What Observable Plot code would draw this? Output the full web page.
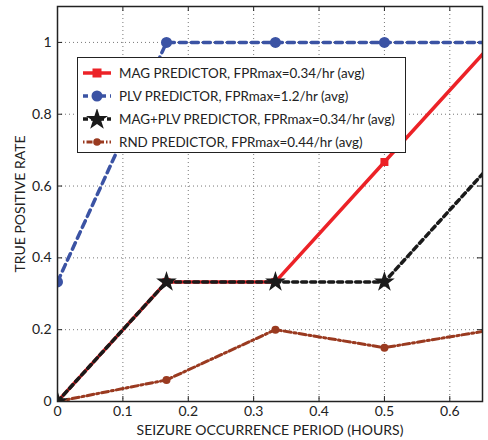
<!DOCTYPE html>
<html>
<head>
<meta charset="utf-8">
<script src="https://cdn.jsdelivr.net/npm/d3@7"></script>
<script src="https://cdn.jsdelivr.net/npm/@observablehq/plot@0.6"></script>
<style>
  body { margin: 0; background: #fff; }
  #wrap { position: relative; width: 488px; height: 440px; font-family: Lato, sans-serif; }
  #legend { position: absolute; left: 77px; top: 57px; width: 329px; height: 96px; box-sizing: border-box;
            border: 1px solid #222; background: #fff; }
  #legend .row { position: absolute; left: 0; height: 20px; display: flex; align-items: center; }
  #legend .row span { font-size: 13.4px; color: #222; margin-left: 8px; white-space: nowrap; }
</style>
</head>
<body>
<div id="wrap"></div>
<script>
// Data
const periods = [0, 0.1667, 0.3333, 0.5, 0.6667];
const magTPR = [0, 0.333, 0.333, 0.667, 1.0];
const plvTPR = [0.333, 1, 1, 1, 1];
const magPlvTPR = [0, 0.333, 0.333, 0.333, 0.667];
const rndTPR = [0, 0.06, 0.2, 0.15, 0.2];
const xTicks = [0, 0.1, 0.2, 0.3, 0.4, 0.5, 0.6];
const yTicks = [0, 0.2, 0.4, 0.6, 0.8, 1];
const seriesNames = [
  "MAG PREDICTOR, FPRmax=0.34/hr (avg)",
  "PLV PREDICTOR, FPRmax=1.2/hr (avg)",
  "MAG+PLV PREDICTOR, FPRmax=0.34/hr (avg)",
  "RND PREDICTOR, FPRmax=0.44/hr (avg)"
];

const RED = "#ec2227", BLUE = "#3b53a4", BLACK = "#1a1a1a", BROWN = "#9a3a20";
const toRows = (ys) => periods.map((x, i) => ({x, y: ys[i]}));
const mag = toRows(magTPR), plv = toRows(plvTPR), mp = toRows(magPlvTPR), rnd = toRows(rndTPR);

const xDom = [0, 0.65], yDom = [0, 1.1];
const tx = 0.0078, ty = 0.0138;

const chart = Plot.plot({
  width: 488, height: 440,
  marginLeft: 57, marginRight: 6, marginTop: 6, marginBottom: 39,
  style: { fontFamily: "Lato, sans-serif", fontSize: "14px", color: "#222", background: "#fff" },
  x: { domain: xDom },
  y: { domain: yDom },
  marks: [
    Plot.gridX(xTicks.slice(1), { stroke: "#777", strokeOpacity: 1, strokeDasharray: "1,3", strokeWidth: 1 }),
    Plot.gridY(yTicks.slice(1), { stroke: "#777", strokeOpacity: 1, strokeDasharray: "1,3", strokeWidth: 1 }),
    // inner ticks
    Plot.ruleX(xTicks, { x: d => d, y1: 0, y2: ty, stroke: "#222" }),
    Plot.ruleX(xTicks, { x: d => d, y1: yDom[1] - ty, y2: yDom[1], stroke: "#222" }),
    Plot.ruleY(yTicks, { y: d => d, x1: 0, x2: tx, stroke: "#222" }),
    Plot.ruleY(yTicks, { y: d => d, x1: xDom[1] - tx, x2: xDom[1], stroke: "#222" }),
    Plot.axisX(xTicks, { tickSize: 0, tickPadding: 5, tickFormat: d => String(d), fontSize: 14,
      label: "SEIZURE OCCURRENCE PERIOD (HOURS)", labelAnchor: "center", labelArrow: false, labelOffset: 33 }),
    Plot.axisY(yTicks, { tickSize: 0, tickPadding: 6, tickFormat: d => String(d), fontSize: 14,
      label: "TRUE POSITIVE RATE", labelAnchor: "center", labelArrow: false, labelOffset: 42 }),
    // RND
    Plot.line(rnd, { x: "x", y: "y", stroke: BROWN, strokeWidth: 3, strokeDasharray: "7,3,2,3", clip: true }),
    Plot.dot(rnd, { x: "x", y: "y", r: 4, fill: BROWN, clip: true }),
    // PLV
    Plot.line(plv, { x: "x", y: "y", stroke: BLUE, strokeWidth: 3.5, strokeDasharray: "7,5", clip: true }),
    Plot.dot(plv, { x: "x", y: "y", r: 5.5, fill: BLUE, clip: true }),
    // MAG
    Plot.line(mag, { x: "x", y: "y", stroke: RED, strokeWidth: 3.5, clip: true }),
    Plot.dot(mag, { x: "x", y: "y", symbol: "square", r: 4.5, fill: RED, clip: true }),
    // MAG+PLV
    Plot.line(mp, { x: "x", y: "y", stroke: BLACK, strokeWidth: 3.5, strokeDasharray: "5,4", clip: true }),
    Plot.dot(mp, { x: "x", y: "y", symbol: "star", r: 6.5, fill: BLACK, clip: true }),
    Plot.frame({ stroke: "#222", strokeWidth: 1.5 })
  ]
});
const wrap = document.getElementById("wrap");
wrap.appendChild(chart);

// Legend
const styles = [
  { stroke: RED, dash: null, w: 3.5, mark: `<rect x="9.5" y="5.5" width="9" height="9" fill="${RED}"/>` },
  { stroke: BLUE, dash: "5,4", w: 3.5, mark: `<circle cx="14" cy="10" r="5.5" fill="${BLUE}"/>` },
  { stroke: BLACK, dash: "5,3", w: 3.5, mark: `<path d="${d3.symbol(d3.symbolStar, 150)()}" transform="translate(14,10.5)" fill="${BLACK}"/>` },
  { stroke: BROWN, dash: "1.5,2,6,2", w: 3, mark: `<circle cx="14" cy="10" r="3.8" fill="${BROWN}"/>` }
];
const legend = document.createElement("div");
legend.id = "legend";
const rowTops = [5, 28, 51, 74];
seriesNames.forEach((name, i) => {
  const s = styles[i];
  const row = document.createElement("div");
  row.className = "row";
  row.style.top = rowTops[i] + "px";
  row.style.left = "5px";
  row.innerHTML = `<svg width="28" height="20"><line x1="0" y1="10" x2="28" y2="10" stroke="${s.stroke}" stroke-width="${s.w}" ${s.dash ? `stroke-dasharray="${s.dash}"` : ""}/>${s.mark}</svg><span>${name}</span>`;
  legend.appendChild(row);
});
wrap.appendChild(legend);
</script>
</body>
</html>
